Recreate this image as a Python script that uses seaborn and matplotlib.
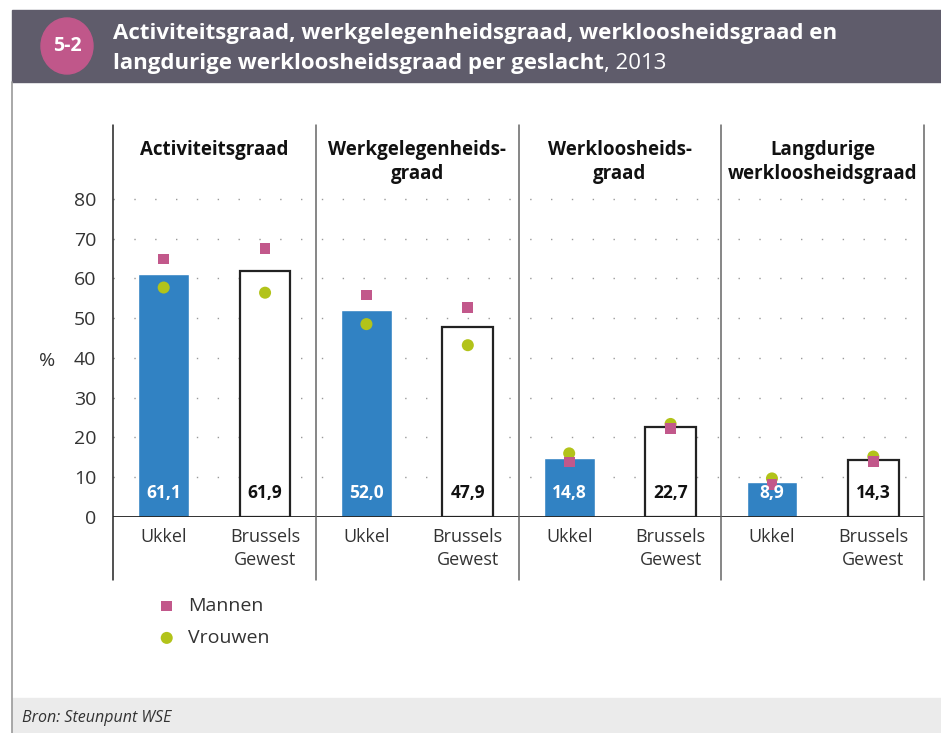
import numpy as np
import pandas as pd
import matplotlib
matplotlib.use("Agg")
import matplotlib.pyplot as plt
import seaborn as sns
from matplotlib.patches import Rectangle, Ellipse
from matplotlib.lines import Line2D

# gegevens
indicatoren = ["Activiteitsgraad", "Werkgelegenheids-\ngraad",
               "Werkloosheids-\ngraad", "Langdurige\nwerkloosheidsgraad"]
regio = ["Ukkel", "Brussels\nGewest"]
totaal = [61.1, 61.9, 52.0, 47.9, 14.8, 22.7, 8.9, 14.3]
mannen = [64.9, 67.6, 55.8, 52.6, 13.8, 22.2, 8.2, 13.9]
vrouwen = [57.7, 56.4, 48.5, 43.2, 16.0, 23.4, 9.7, 15.2]

W, H = 941, 733
BLAUW = "#3182c3"
ROZE = "#c2588b"
GROEN = "#b2c31a"
KOP = "#5f5c6b"

sns.set_theme(style="white")
plt.rcParams["font.family"] = ["Open Sans", "DejaVu Sans"]

def fx(x):
    return x / W

def fy(y):
    return 1 - y / H

fig = plt.figure(figsize=(W / 100, H / 100), dpi=100)

# kop en kader
fig.patches.append(Rectangle((fx(12), fy(82)), fx(W - 12), 72 / H,
                             transform=fig.transFigure, color=KOP, zorder=0))
fig.patches.append(Rectangle((fx(12), 0), fx(W - 12), 35 / H,
                             transform=fig.transFigure, color="#ebebeb", zorder=0))
fig.lines.append(Line2D([fx(12), fx(12)], [0, fy(82)], transform=fig.transFigure,
                        color="#9a9a9a", lw=1.2))
fig.patches.append(Ellipse((fx(67), fy(46)), 52 / W, 56 / H,
                           transform=fig.transFigure, color="#c0578a", zorder=1))
fig.text(fx(67), fy(46), "5-2", color="white", fontsize=14, fontweight="bold",
         ha="center", va="center")
fig.text(fx(113), fy(33), "Activiteitsgraad, werkgelegenheidsgraad, werkloosheidsgraad en",
         color="white", fontsize=16, fontweight="bold", va="center")
t = fig.text(fx(113), fy(63), "langdurige werkloosheidsgraad per geslacht",
             color="white", fontsize=16, fontweight="bold", va="center")
fig.canvas.draw()
bb = t.get_window_extent()
fig.text(bb.x1 / W, fy(63), ", 2013", color="white", fontsize=16, va="center")
fig.text(fx(22), fy(718), "Bron: Steunpunt WSE", color="#333333", fontsize=11.5,
         style="italic", va="center")

# grafiek
ax = fig.add_axes([fx(113), fy(517), fx(924) - fx(113), (517 - 125) / H])
ymax = (517 - 125) / 3.977

df = pd.DataFrame({
    "cat": [f"{i}" for i in range(8)],
    "regio": [regio[i % 2] for i in range(8)],
    "totaal": totaal,
})
sns.barplot(data=df, x="cat", y="totaal", hue="regio", dodge=False, width=0.5,
            palette={regio[0]: BLAUW, regio[1]: "white"}, legend=False, ax=ax,
            saturation=1)
for p in ax.patches:
    fc = p.get_facecolor()
    if fc[0] > 0.9 and fc[1] > 0.9:
        p.set_edgecolor("#222222")
        p.set_linewidth(1.6)
    p.set_zorder(2)

pos = np.arange(8)
sns.scatterplot(x=pos, y=mannen, marker="s", s=60, color=ROZE, edgecolor="none",
                label="Mannen", ax=ax, zorder=4)
sns.scatterplot(x=pos, y=vrouwen, marker="o", s=75, color=GROEN, edgecolor="none",
                label="Vrouwen", ax=ax, zorder=3)

for i, v in enumerate(totaal):
    kleur = "white" if i % 2 == 0 else "#111111"
    ax.text(i, 6.0, f"{v:.1f}".replace(".", ","), ha="center", va="center",
            color=kleur, fontsize=12.5, fontweight="bold", zorder=5)

ax.set_xlim(-0.5, 7.5)
ax.set_ylim(0, ymax)
ax.set_yticks(range(0, 90, 10))
ax.tick_params(axis="y", labelsize=14, colors="#333333", length=0, pad=12)
ax.set_xticks(pos)
ax.set_xticklabels(regio * 4, fontsize=13, color="#333333", linespacing=1.35)
ax.tick_params(axis="x", length=0, pad=8)
ax.set_xlabel("")
ax.set_ylabel("")
for s in ax.spines.values():
    s.set_visible(False)

for g in range(10, 90, 10):
    ax.axhline(g, color="#9a9a9a", lw=1, ls=(0, (1, 14)), zorder=1)
ax.axhline(0, color="#222222", lw=1.3, zorder=3)

onder = -63 / 392
for xs, c in [(-0.5, "#222222"), (1.5, "#666666"), (3.5, "#666666"),
              (5.5, "#666666"), (7.5, "#666666")]:
    ax.axvline(xs, ymin=onder, ymax=1, color=c, lw=1.1, clip_on=False, zorder=3)

for k, naam in enumerate(indicatoren):
    ax.text(2 * k + 0.5, (517 - 140) / 3.977, naam, ha="center", va="top",
            fontsize=13.5, fontweight="bold", color="#111111", linespacing=1.3)

fig.text(fx(47), fy(361), "%", fontsize=14, color="#333333", ha="center", va="center")

ax.legend(loc="upper left", bbox_to_anchor=(fx(157), fy(597)),
          bbox_transform=fig.transFigure, frameon=False, fontsize=14,
          labelcolor="#333333", handlelength=1.0, handletextpad=0.6,
          labelspacing=0.72, borderaxespad=0, borderpad=0)

fig.savefig("out.png", dpi=100)
